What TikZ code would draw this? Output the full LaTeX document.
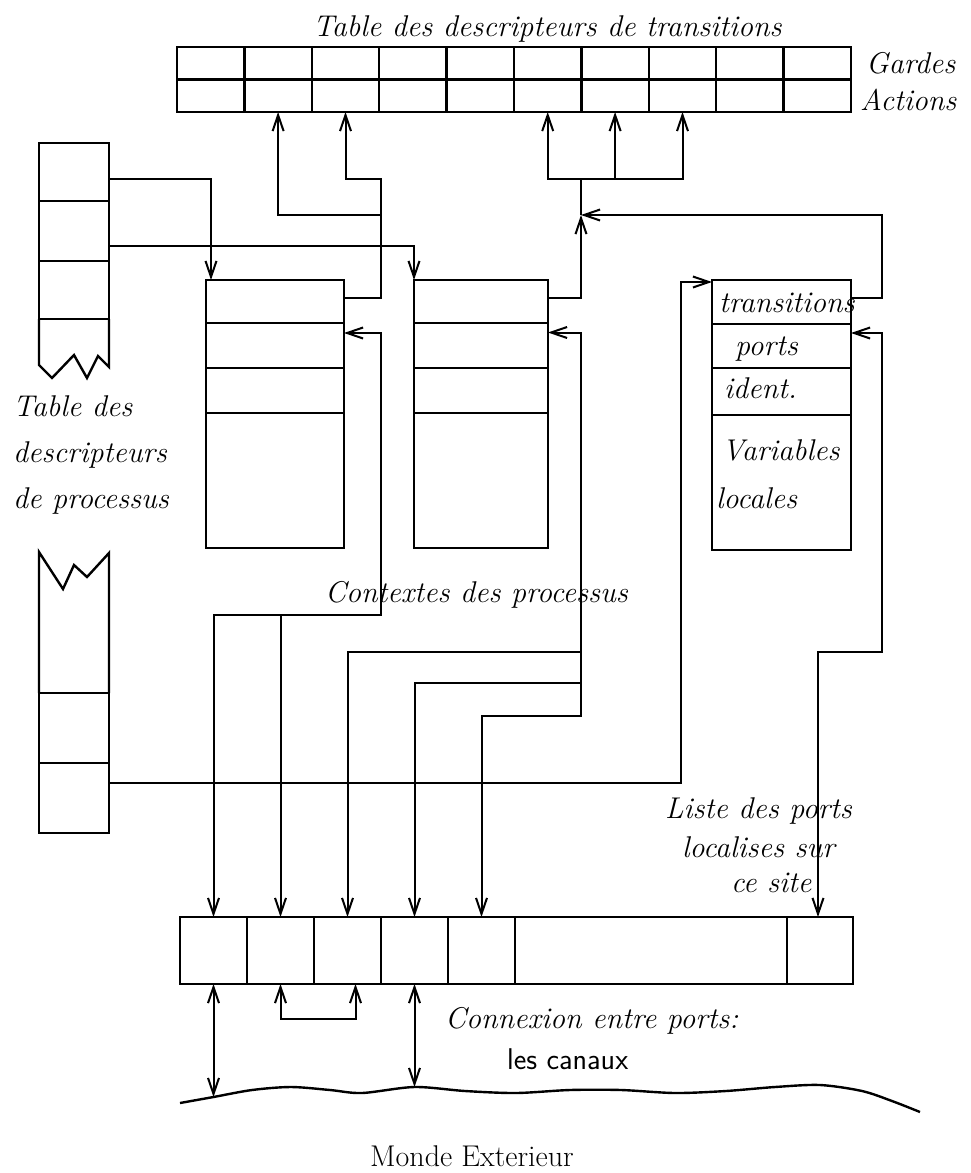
\documentclass[tikz,border=0pt]{standalone}
\usepackage{fontspec}
\usetikzlibrary{arrows.meta}
\tikzset{
  >={Straight Barb[length=16pt,width=11pt]},
  cell/.style={draw,line width=2.4pt,inner sep=0pt,outer sep=0pt,anchor=north west},
  torn/.style={line width=2.4pt},
  link/.style={line width=2pt},
  tag/.style={font=\fontsize{30}{36}\selectfont\itshape,inner sep=0pt,anchor=base west},
}
\begin{document}
\begin{tikzpicture}[x=1pt,y=-1pt]
  \useasboundingbox (0,0) rectangle (970,1173);
  % table des transitions
  \node[tag] (ttr) at (313,36) {Table des descripteurs de transitions};
  \foreach \i in {1,...,10} {
    \node[cell,minimum width=67.4pt,minimum height=32.5pt] (g\i) at ({177+67.4*(\i-1)},47) {};
    \node[cell,minimum width=67.4pt,minimum height=32.5pt] (a\i) at ({177+67.4*(\i-1)},79.5) {};
  }
  \node[tag] (tg) at (866,73) {Gardes};
  \node[tag] (ta) at (860,110) {Actions};
  % table des processus
  \node[cell,minimum width=70pt,minimum height=58pt] (p1) at (39,143) {};
  \node[cell,minimum width=70pt,minimum height=60pt] (p2) at (39,201) {};
  \node[cell,minimum width=70pt,minimum height=58pt] (p3) at (39,261) {};
  \draw[torn] (p3.south west) -- (39,365) -- (52,378) -- (74,355) -- (87,378) -- (98,356) -- (109,367) -- (p3.south east);
  \node[tag] (tp1) at (13,416) {Table des};
  \node[tag] (tp2) at (13,462) {descripteurs};
  \node[tag] (tp3) at (13,508) {de processus};
  \node[cell,minimum width=70pt,minimum height=70pt] (q1) at (39,693) {};
  \node[cell,minimum width=70pt,minimum height=70pt] (q2) at (39,763) {};
  \draw[torn] (q1.north west) -- (39,552) -- (63,589) -- (74,565) -- (87,577) -- (109,553) -- (q1.north east);
  % contextes
  \foreach \b/\x/\w in {1/206/138pt,2/414/134pt}
    \foreach \f/\y/\h in {a/280/43pt,b/323/45pt,c/368/45pt,d/413/135pt}
      \node[cell,minimum width=\w,minimum height=\h] (c\b\f) at (\x,\y) {};
  \foreach \f/\y/\h in {a/280/44pt,b/324/44pt,c/368/47pt,d/415/135pt}
    \node[cell,minimum width=139pt,minimum height=\h] (c3\f) at (712,\y) {};
  \node[tag] (l1) at (719,312) {transitions};
  \node[tag] (l2) at (735,355) {ports};
  \node[tag] (l3) at (724,398) {ident.};
  \node[tag] (l4) at (722,460) {Variables};
  \node[tag] (l5) at (716,508) {locales};
  \node[tag] (tc) at (325,602) {Contextes des processus};
  % ports
  \foreach \i/\x/\w in {1/180/67pt,2/247/67pt,3/314/67pt,4/381/67pt,5/448/67pt,6/515/272pt,7/787/66pt}
    \node[cell,minimum width=\w,minimum height=67pt] (z\i) at (\x,917) {};
  \node[tag] (tl1) at (665,818) {Liste des ports};
  \node[tag] (tl2) at (682,857) {localises sur};
  \node[tag] (tl3) at (731,892) {ce site};
  % connexions
  \coordinate (r1) at (381,179);
  \coordinate (r2) at (381,215);
  \coordinate (rb) at (381,615);
  \coordinate (j) at (581,215);
  \coordinate (k) at (581,179);
  \coordinate (s1) at (581,652);
  \coordinate (s2) at (581,683);
  \coordinate (s3) at (581,716);
  \coordinate (rt) at (882,215);
  \coordinate (rp) at (882,652);
  \coordinate (v) at (681,282);
  \coordinate (w1) at (213.5,1097);
  \coordinate (w2) at (414.5,1087);
  \draw[link,->] ([yshift=-7pt]p1.east) -| ([xshift=5pt]c1a.north west);
  \draw[link,->] ([yshift=-15pt]p2.east) -| (c2a.north west);
  \draw[link,->] ([yshift=4pt]c1a.east) -| (r1) -| (a3.south);
  \draw[link,->] (r2) -| (a2.south);
  \draw[link,->] ([yshift=4pt]c2a.east) -| (j);
  \draw[link,->] ([yshift=4pt]c3a.east) -| (rt) -- (j);
  \draw[link] (j) -- (k);
  \draw[link,->] (k) -| (a6.south);
  \draw[link,->] (k) -| (a7.south);
  \draw[link,->] (k) -| (a8.south);
  \draw[link,<->] ([yshift=12.5pt]c1b.east) -| (rb) -| (z1.north);
  \draw[link,->] (rb) -| (z2.north);
  \draw[link,<->] ([yshift=13pt]c2b.east) -| (s3) -| (z5.north);
  \draw[link,->] (s1) -| (z3.north);
  \draw[link,->] (s2) -| (z4.north);
  \draw[link,<->] ([yshift=13pt]c3b.east) -| (rp) -| ([xshift=-2pt]z7.north);
  \draw[link,->] ([yshift=15pt]q2.east) -| (v) -- (v -| c3a.west);
  % monde exterieur
  \draw[torn] plot[smooth] coordinates {(180,1103) (213.5,1097) (252,1090) (291,1087) (330,1090) (362,1093) (414.5,1087) (465,1091) (516,1093) (570,1090) (621,1090) (675,1093) (726,1091) (775,1087) (820,1085) (862,1091) (892,1101) (920,1112)};
  \draw[link,<->] (z1.south) -- (w1);
  \draw[link,<->] (z4.south) -- (w2);
  \draw[link,<->] (z2.south) -- ++(0,35) -| ([xshift=8pt]z3.south);
  \node[tag] (tx1) at (445,1028) {Connexion entre ports:};
  \node[tag,font=\fontsize{30}{36}\selectfont\sffamily] (tx2) at (507,1069) {les canaux};
  \node[tag,font=\fontsize{30}{36}\selectfont\rmfamily\upshape] (tw) at (370,1166) {Monde Exterieur};
\end{tikzpicture}
\end{document}
